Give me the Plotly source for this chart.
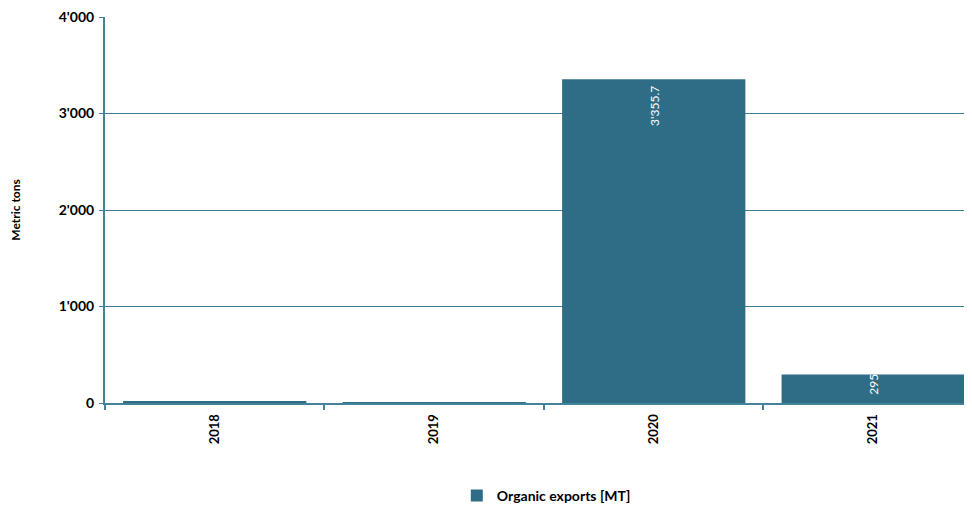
import plotly.graph_objects as go

years = ["2018", "2019", "2020", "2021"]
exports = [12.0, 10.0, 3355.7, 295.3]
labels = ["12", "10", "3'355.7", "295.3"]
ytick_vals = [0, 1000, 2000, 3000, 4000]
ytick_text = ["0", "1'000", "2'000", "3'000", "4'000"]
y_max = 4000

bar_color = "#2F6D87"
axis_color = "#43829B"
font_family = "Lato, 'Open Sans', sans-serif"

fig = go.Figure()
fig.add_trace(go.Bar(
    x=years, y=exports, name="Organic exports [MT]",
    marker=dict(color=bar_color, line=dict(width=0)),
    width=0.835,
))

# data labels: white, rotated; inside end for tall bars, around the top for short ones
for i, (v, lab) in enumerate(zip(exports, labels)):
    share = v / y_max
    if share > 0.1:
        anchor, shift = "top", -5
    elif share > 0.02:
        anchor, shift = "middle", -5
    else:
        anchor, shift = "bottom", 8
    fig.add_annotation(
        x=i, y=v, xref="x", yref="y", text=lab, showarrow=False,
        textangle=-90, yanchor=anchor, yshift=shift,
        font=dict(color="white", size=12, family=font_family),
    )

fig.update_layout(
    width=964, height=504,
    margin=dict(l=97, r=0, t=9, b=107),
    paper_bgcolor="white", plot_bgcolor="white",
    font=dict(family=font_family, color="black"),
    showlegend=True,
    legend=dict(orientation="h", x=0.509, xanchor="center", y=-0.2, yanchor="top",
                font=dict(size=14, family=font_family, weight="bold"),
                itemwidth=30),
    bargap=0.165,
)
fig.update_xaxes(
    type="category", range=[-0.5, 3.45], automargin=False,
    showline=True, linecolor=axis_color, linewidth=2,
    ticks="outside", tickson="boundaries", ticklen=5, tickcolor=axis_color, tickwidth=2,
    tickangle=-90, tickfont=dict(size=13, weight="bold"), ticklabelstandoff=4,
    showgrid=False, zeroline=False,
)
fig.update_yaxes(
    range=[0, y_max], tickvals=ytick_vals, ticktext=ytick_text, automargin=False,
    showline=True, linecolor=axis_color, linewidth=2,
    ticks="outside", ticklen=4, tickcolor=axis_color, tickwidth=1,
    showgrid=True, gridcolor="#3F7C96", gridwidth=1,
    zeroline=False, ticklabelstandoff=2, ticklabeloverflow="allow",
    tickfont=dict(size=14, weight="bold"),
    title=dict(text="Metric tons", font=dict(size=12, weight="bold"), standoff=48),
)

fig.write_html("out.html")
